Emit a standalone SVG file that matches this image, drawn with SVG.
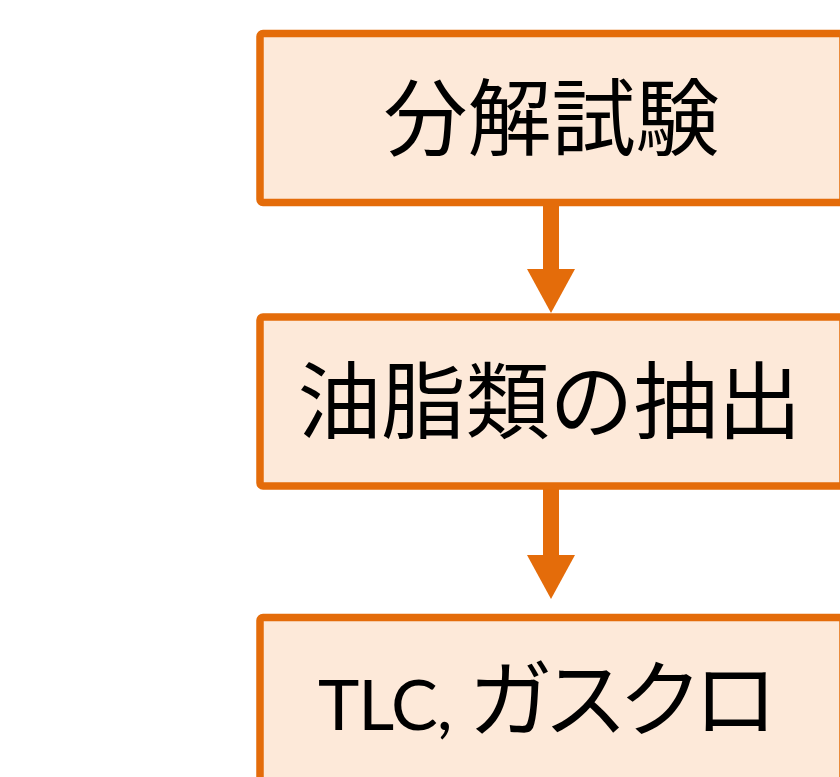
<svg xmlns="http://www.w3.org/2000/svg" width="840" height="777" viewBox="0 0 840 777">
  <style>
    .box { fill: #FDE9D9; stroke: #E46C0A; stroke-width: 7.5; }
    .lbl { font-family: "Noto Sans CJK JP", "Noto Sans", sans-serif; font-size: 84px; fill: #000000; }
    .lat { font-family: Lato, "Noto Sans CJK JP", sans-serif; font-size: 70px; letter-spacing: -1px; }
    .conn { stroke: #E46C0A; stroke-width: 16; fill: none; }
  </style>
  <defs>
    <marker id="arrow" markerUnits="userSpaceOnUse" markerWidth="50" markerHeight="50" refX="0" refY="0" orient="auto" overflow="visible">
      <path d="M0,-24 L44,0 L0,24 z" fill="#E46C0A"/>
    </marker>
  </defs>
  <rect x="0" y="0" width="840" height="777" fill="#FFFFFF"/>
  <g id="connectors">
    <line class="conn" x1="551" y1="205" x2="551" y2="269" marker-end="url(#arrow)"/>
    <line class="conn" x1="551" y1="488" x2="551" y2="555" marker-end="url(#arrow)"/>
  </g>
  <g id="node1">
    <rect class="box" x="260" y="33.5" width="583" height="169" rx="3"/>
    <text class="lbl" x="551.5" y="149" text-anchor="middle">分解試験</text>
  </g>
  <g id="node2">
    <rect class="box" x="260" y="317" width="583" height="169" rx="3"/>
    <text class="lbl" x="549.5" y="432" text-anchor="middle">油脂類の抽出</text>
  </g>
  <g id="node3">
    <rect class="box" x="260" y="617.5" width="583" height="175" rx="3"/>
    <text class="lbl" x="318" y="730"><tspan class="lat">TLC, </tspan><tspan letter-spacing="-9">ガスクロ</tspan></text>
  </g>
</svg>
